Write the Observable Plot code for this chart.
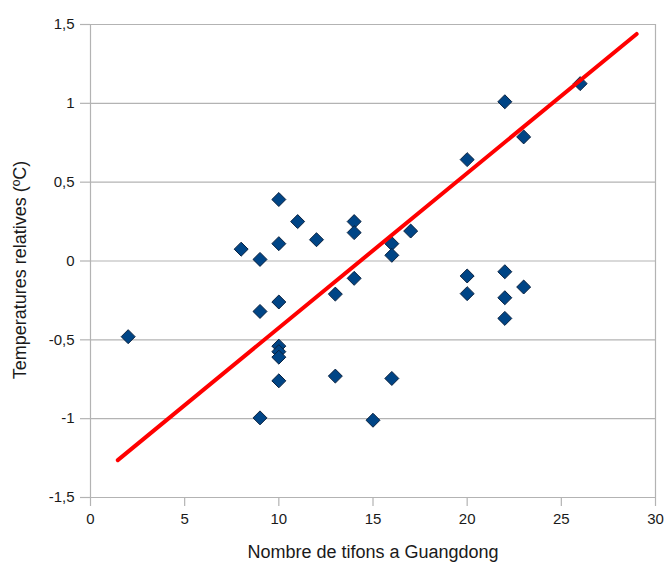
<!DOCTYPE html>
<html>
<head>
<meta charset="utf-8">
<script src="https://cdn.jsdelivr.net/npm/d3@7"></script>
<script src="https://cdn.jsdelivr.net/npm/@observablehq/plot@0.6"></script>
<style>
  html, body { margin: 0; padding: 0; background: #fff; }
  #chart { width: 664px; height: 565px; }
</style>
</head>
<body>
<div id="chart"></div>
<script>
const typhoons = [2, 8, 9, 9, 9, 10, 10, 10, 10, 10, 10, 10, 11, 12, 13, 13, 14, 14, 14, 15, 16, 16, 16, 17, 20, 20, 20, 22, 22, 22, 22, 23, 23, 26];
const temps = [-0.48, 0.075, 0.01, -0.32, -0.995, 0.39, 0.11, -0.26, -0.54, -0.575, -0.61, -0.76, 0.25, 0.135, -0.21, -0.73, 0.25, 0.18, -0.11, -1.01, 0.11, 0.036, -0.745, 0.19, 0.643, -0.095, -0.207, 1.01, -0.068, -0.233, -0.364, 0.787, -0.165, 1.125];
const trendX = [1.45, 29];
const trendY = [-1.263, 1.44];
const xTicks = [0, 5, 10, 15, 20, 25, 30];
const yTicks = [-1.5, -1, -0.5, 0, 0.5, 1, 1.5];

const points = typhoons.map((x, i) => ({x, y: temps[i]}));
const trend = trendX.map((x, i) => ({x, y: trendY[i]}));
const fmt = d => String(d).replace(".", ",");
const gray = "#b3b3b3";

const chart = Plot.plot({
  width: 664,
  height: 565,
  marginLeft: 90,
  marginRight: 9,
  marginTop: 24,
  marginBottom: 68,
  style: {fontFamily: "'Liberation Sans', Arial, sans-serif", fontSize: "15px", color: "#1a1a1a", background: "#fff"},
  x: {domain: [0, 30]},
  y: {domain: [-1.5, 1.5]},
  marks: [
    Plot.gridY(yTicks, {stroke: gray, strokeOpacity: 1, strokeWidth: 1.2}),
    Plot.ruleX([30], {stroke: gray, strokeWidth: 1.2, y1: -1.5, y2: 1.5}),
    Plot.ruleX([0], {stroke: gray, strokeWidth: 1.2, y1: -1.5, y2: 1.5}),
    Plot.axisX(xTicks, {tickSize: 9, tickPadding: 7, stroke: gray, strokeOpacity: 1, strokeWidth: 1.2, tickFormat: fmt, fontSize: 15, fill: "#1a1a1a", label: null}),
    Plot.axisY(yTicks, {tickSize: 10, tickPadding: 6, stroke: gray, strokeOpacity: 1, strokeWidth: 1.2, tickFormat: fmt, fontSize: 15, fill: "#1a1a1a", label: null}),
    Plot.text(["Nombre de tifons a Guangdong"], {frameAnchor: "bottom", dy: 60, fontSize: 18, fill: "#1a1a1a"}),
    Plot.text(["Temperatures relatives (ºC)"], {frameAnchor: "left", textAnchor: "middle", dx: -70, dy: 9, rotate: -90, fontSize: 18, fill: "#1a1a1a"}),
    Plot.dot(points, {x: "x", y: "y", symbol: "diamond2", r: 6.3, fill: "#004586", stroke: "#0a2240", strokeWidth: 1}),
    Plot.line(trend, {x: "x", y: "y", stroke: "#ff0000", strokeWidth: 4})
  ]
});
document.getElementById("chart").appendChild(chart);
</script>
</body>
</html>
